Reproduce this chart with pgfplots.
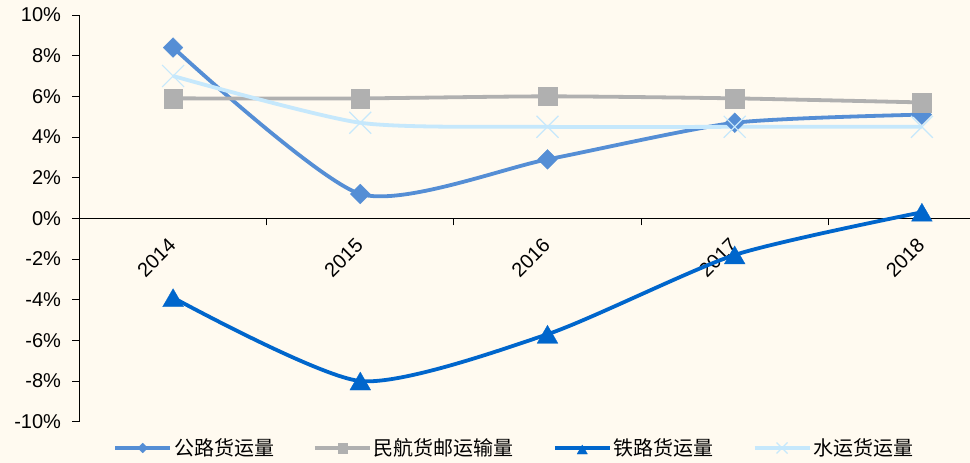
\documentclass[border=0pt]{standalone}
\usepackage{pgfplots}
\pgfplotsset{compat=1.18}
\usepackage{fontspec}
\setmainfont{Liberation Sans}
\newfontfamily\cjk{Noto Sans CJK SC}

\definecolor{bgcream}{HTML}{FFFAF0}
\definecolor{roadblue}{RGB}{85,142,213}
\definecolor{airgray}{RGB}{176,176,176}
\definecolor{railblue}{RGB}{0,102,204}
\definecolor{waterblue}{RGB}{198,232,252}

\begin{document}
\begin{tikzpicture}
\useasboundingbox (0,0) rectangle (970pt,463pt);
\fill[bgcream] (0,0) rectangle (970pt,463pt);
\begin{axis}[
  at={(79.5pt,41.3pt)}, anchor=south west,
  scale only axis, width=890.5pt, height=406.7pt,
  xmin=-0.5, xmax=4.257, ymin=-10, ymax=10,
  axis x line=middle, axis y line=left,
  axis line style={-, black, line width=0.9pt},
  every inner x axis line/.append style={-},
  every outer y axis line/.append style={-},
  tick align=outside,
  xtick={0,1,2,3,4},
  xticklabels={2014,2015,2016,2017,2018},
  major x tick style={draw=none},
  minor xtick={0.5,1.5,2.5,3.5},
  minor x tick style={black, line width=0.9pt},
  minor tick length=7pt,
  major tick length=7pt,
  ytick={-10,-8,...,10},
  yticklabels={-10\%,-8\%,-6\%,-4\%,-2\%,0\%,2\%,4\%,6\%,8\%,10\%},
  y tick style={black, line width=0.9pt},
  tick label style={font=\fontsize{20}{24}\selectfont, text=black},
  xticklabel style={xshift=1.5pt, yshift=-14.4pt, rotate=45, anchor=east},
  yticklabel style={xshift=-8pt},
  legend columns=4,
  legend style={at={(0.0377,-0.0647)}, anchor=west, draw=none, fill=none,
    font=\cjk\fontsize{20}{24}\selectfont, inner sep=0pt,
    /tikz/every even column/.append style={column sep=37pt}},
  legend image code/.code={%
    \draw[#1, mark repeat=2, mark phase=2,
      /tikz/every mark/.append style={scale=0.5}]
      plot coordinates {(0pt,0pt) (27.5pt,0pt) (55pt,0pt)};},
]
% road freight volume growth
\addplot[roadblue, line width=3.8pt, smooth, tension=0.4,
  mark=square*, mark size=7pt,
  mark options={rotate=45, solid, line width=0.3pt, fill=roadblue}]
  coordinates {(0,8.4) (1,1.2) (2,2.9) (3,4.7) (4,5.1)};
\addlegendentry{公路货运量}
% civil aviation cargo and mail
\addplot[airgray, line width=3.8pt, smooth, tension=0.4,
  mark=square*, mark size=9.3pt,
  mark options={solid, line width=0.3pt, fill=airgray}]
  coordinates {(0,5.9) (1,5.9) (2,6.0) (3,5.9) (4,5.7)};
\addlegendentry{民航货邮运输量}
% railway freight volume growth
\addplot[railblue, line width=3.8pt, smooth, tension=0.4,
  mark=triangle*, mark size=12pt,
  mark options={solid, line width=0.3pt, fill=railblue, yshift=-3pt}]
  coordinates {(0,-3.9) (1,-8.0) (2,-5.7) (3,-1.8) (4,0.3)};
\addlegendentry{铁路货运量}
% waterway freight volume growth
\addplot[waterblue, line width=3.8pt, smooth, tension=0.4,
  mark=x, mark size=15.5pt,
  mark options={solid, line width=1.2pt}]
  coordinates {(0,7.0) (1,4.7) (2,4.5) (3,4.5) (4,4.5)};
\addlegendentry{水运货运量}
\end{axis}
\end{tikzpicture}
\end{document}
